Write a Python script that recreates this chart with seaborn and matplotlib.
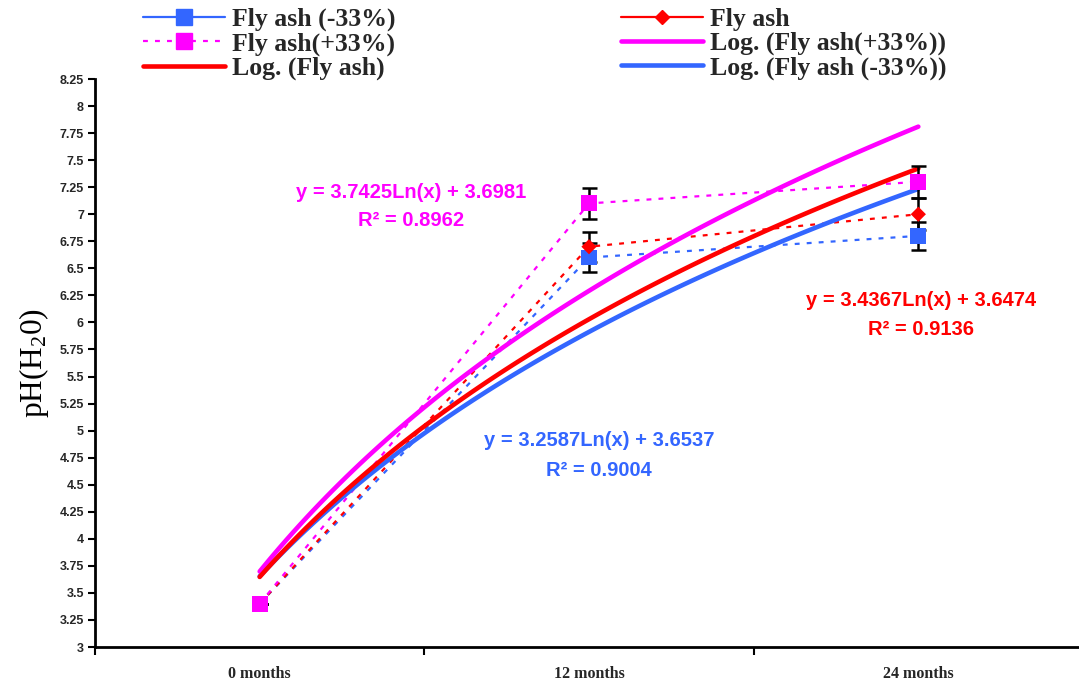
import numpy as np
import pandas as pd
import matplotlib
matplotlib.use("Agg")
import matplotlib.pyplot as plt
import seaborn as sns
from matplotlib.lines import Line2D
from matplotlib.font_manager import FontProperties
from matplotlib.ticker import FuncFormatter

# ---------------- data ----------------
categories = ["0 months", "12 months", "24 months"]
x_pos = [1, 2, 3]
ph_minus33 = [3.4, 6.6, 6.8]
ph_flyash = [3.4, 6.7, 7.0]
ph_plus33 = [3.4, 7.1, 7.3]
err_minus33 = [0.0, 0.13, 0.13]
err_flyash = [0.0, 0.14, 0.15]
err_plus33 = [0.0, 0.14, 0.15]
eq_minus33 = ["y = 3.2587Ln(x) + 3.6537", "R² = 0.9004"]
eq_flyash = ["y = 3.4367Ln(x) + 3.6474", "R² = 0.9136"]
eq_plus33 = ["y = 3.7425Ln(x) + 3.6981", "R² = 0.8962"]
y_ticks = np.arange(3.0, 8.26, 0.25)

BLUE = "#3366FF"
RED = "#FF0000"
MAG = "#FF00FF"

sns.set_theme(style="white")
plt.rcParams["font.family"] = ["Liberation Sans", "DejaVu Sans"]
plt.rcParams["mathtext.default"] = "regular"

W, H = 1079, 688
fig = plt.figure(figsize=(W / 100, H / 100), dpi=100)
ax = fig.add_axes([95 / W, 1 - 647 / H, 988 / W, 568 / H])

series = [
    ("minus", ph_minus33, err_minus33, BLUE, "s", 132),
    ("fly", ph_flyash, err_flyash, RED, "D", 60),
    ("plus", ph_plus33, err_plus33, MAG, "s", 132),
]

df = pd.DataFrame({"x": x_pos})
for name, vals, errs, col, mk, sz in series:
    df[name] = vals

# dotted connecting lines
for name, vals, errs, col, mk, sz in series:
    sns.lineplot(data=df, x="x", y=name, ax=ax, color=col, lw=1.6,
                 linestyle=(0, (2.2, 3.2)), legend=False, zorder=2)

# logarithmic trendlines (fit y ~ ln(x))
for name, col in [("minus", BLUE), ("plus", MAG), ("fly", RED)]:
    sns.regplot(data=df, x="x", y=name, ax=ax, logx=True, ci=None,
                scatter=False, truncate=True,
                line_kws=dict(color=col, lw=3.3, zorder=3,
                              solid_capstyle="round"))

# error bars and markers
for name, vals, errs, col, mk, sz in series:
    ax.errorbar(df["x"], df[name], yerr=errs, fmt="none", ecolor="black",
                elinewidth=1.8, capsize=5.4, capthick=1.8, zorder=4)
    sns.scatterplot(data=df, x="x", y=name, ax=ax, marker=mk, s=sz,
                    color=col, edgecolor="none", linewidth=0, zorder=5,
                    legend=False)

# axes formatting
ax.set_xlim(0.5, 3.5)
ax.set_ylim(3, 8.25)
ax.set_yticks(y_ticks)
ax.yaxis.set_major_formatter(FuncFormatter(lambda v, p: f"{v:g}"))
ax.set_xticks(x_pos)
ax.set_xticklabels(categories)
ax.set_xticks([0.5, 1.5, 2.5, 3.5], minor=True)
ax.tick_params(axis="x", which="major", length=0, pad=14)
ax.tick_params(axis="x", which="minor", length=6, width=1.5, direction="out",
               color="black", bottom=True)
ax.tick_params(axis="y", which="major", length=5, width=1.5, direction="out",
               color="black", left=True, pad=3)
for lab in ax.get_yticklabels():
    lab.set_fontproperties(FontProperties(family="Liberation Sans",
                                          weight="bold", size=9))
for lab in ax.get_xticklabels():
    lab.set_fontproperties(FontProperties(family="Liberation Serif",
                                          weight="bold", size=11.5))
for s in ["top", "right"]:
    ax.spines[s].set_visible(False)
for s in ["left", "bottom"]:
    ax.spines[s].set_color("black")
    ax.spines[s].set_linewidth(2)
ax.grid(False)
ax.set_xlabel("")
ax.set_ylabel("pH(H$_2$0)", fontproperties=FontProperties(
    family="Liberation Serif", size=22.5), labelpad=6, color="black")

# equation annotations
def ptext(px, py, s, col):
    fig.text(px / W, 1 - py / H, s, color=col, ha="center", va="center",
             fontproperties=FontProperties(family="Liberation Sans",
                                           weight="bold", size=14.5))

ptext(411, 192, eq_plus33[0], MAG)
ptext(411, 221, eq_plus33[1], MAG)
ptext(921, 301, eq_flyash[0], RED)
ptext(921, 329, eq_flyash[1], RED)
ptext(599, 441, eq_minus33[0], BLUE)
ptext(599, 470, eq_minus33[1], BLUE)

# legend
handles = [
    Line2D([], [], color=BLUE, lw=1.6, marker="s", markersize=11.5),
    Line2D([], [], color=MAG, lw=1.6, linestyle=(0, (2.2, 3.2)), marker="s",
           markersize=11.5),
    Line2D([], [], color=RED, lw=3.3, solid_capstyle="round"),
    Line2D([], [], color=RED, lw=1.6, marker="D", markersize=7.5),
    Line2D([], [], color=MAG, lw=3.3, solid_capstyle="round"),
    Line2D([], [], color=BLUE, lw=3.3, solid_capstyle="round"),
]
labels = ["Fly ash (-33%)", "Fly ash(+33%)", "Log. (Fly ash)",
          "Fly ash", "Log. (Fly ash(+33%))", "Log. (Fly ash (-33%))"]
fig.legend(handles, labels, ncol=2, loc="upper left",
           bbox_to_anchor=(143 / W, 1 - 8 / H), frameon=False,
           prop=FontProperties(family="Liberation Serif", weight="bold",
                               size=18.5),
           handlelength=3.2, handletextpad=0.25, columnspacing=8.8,
           labelspacing=0.04, borderpad=0, borderaxespad=0)

fig.savefig("out.png", dpi=100)
